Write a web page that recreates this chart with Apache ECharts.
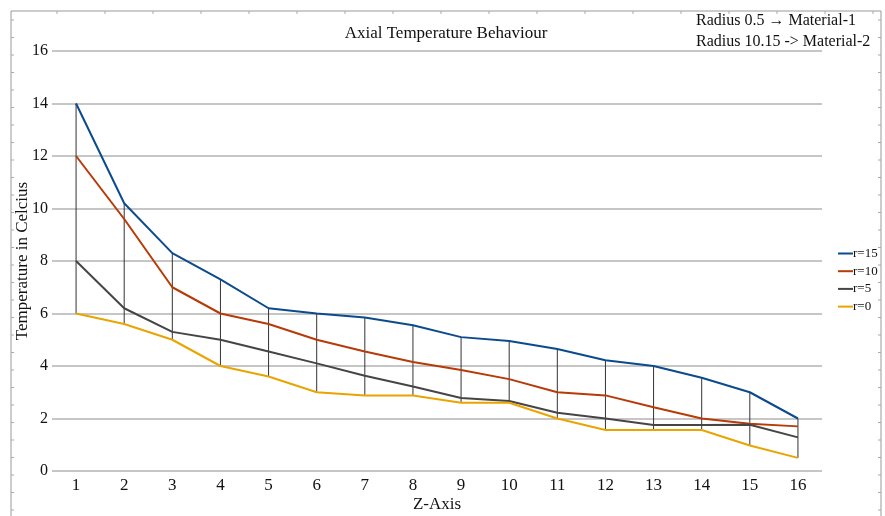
<!DOCTYPE html>
<html>
<head>
<meta charset="utf-8">
<script src="https://cdn.jsdelivr.net/npm/echarts@6/dist/echarts.min.js"></script>
<style>
  html, body { margin: 0; padding: 0; background: #fff; }
  #chart { width: 885px; height: 516px; }
</style>
</head>
<body>
<div id="chart"></div>
<script>
// Z positions along the axis
const zPos = ['1', '2', '3', '4', '5', '6', '7', '8', '9', '10', '11', '12', '13', '14', '15', '16'];

// temperature per radius
const r15 = [14, 10.2, 8.3, 7.3, 6.2, 6.0, 5.85, 5.55, 5.1, 4.95, 4.65, 4.22, 4.0, 3.55, 3.0, 2.0];
const r10 = [12, 9.6, 7.0, 6.0, 5.6, 5.0, 4.55, 4.15, 3.85, 3.5, 3.0, 2.88, 2.43, 2.0, 1.8, 1.7];
const r5 = [8, 6.2, 5.3, 5.0, 4.55, 4.1, 3.63, 3.22, 2.78, 2.67, 2.22, 2.0, 1.75, 1.75, 1.76, 1.28];
const r0 = [6, 5.6, 5.0, 4.0, 3.6, 3.0, 2.88, 2.88, 2.6, 2.6, 2.0, 1.56, 1.56, 1.56, 0.97, 0.5];

const yTicks = [0, 2, 4, 6, 8, 10, 12, 14, 16];

// vertical connector from lowest to highest radius at each z
const spans = zPos.map((z, i) => {
    const vals = [r15[i], r10[i], r5[i], r0[i]];
    return [i, Math.min(...vals), Math.max(...vals)];
});

const serif = 'Liberation Serif';

var chart = echarts.init(document.getElementById('chart'));

// frame ticks like the original screenshot
const frameTicks = [];
for (let x = 57; x < 880; x += 48) {
    frameTicks.push({ type: 'line', shape: { x1: x, y1: 11, x2: x, y2: 14 }, style: { stroke: '#aaa', lineWidth: 1 } });
}
for (let y = 20; y < 516; y += 17.5) {
    frameTicks.push({ type: 'line', shape: { x1: 11, y1: y, x2: 14, y2: y }, style: { stroke: '#aaa', lineWidth: 1 } });
    frameTicks.push({ type: 'line', shape: { x1: 878, y1: y, x2: 881, y2: y }, style: { stroke: '#aaa', lineWidth: 1 } });
}

var option = {
    backgroundColor: '#fff',
    animation: false,
    title: {
        text: 'Axial Temperature Behaviour',
        left: 441,
        top: 20,
        textAlign: 'center',
        textStyle: {
            fontFamily: serif,
            fontSize: 17,
            fontWeight: 'normal',
            color: '#111'
        }
    },
    graphic: [{
        type: 'rect',
        shape: { x: 11, y: 11, width: 870, height: 530 },
        style: { fill: 'none', stroke: '#999', lineWidth: 1 },
        silent: true
    }, {
        type: 'text',
        left: 696,
        top: 10,
        style: {
            text: 'Radius 0.5 \u2192 Material-1\nRadius 10.15 -> Material-2',
            font: '16px "Liberation Serif"',
            lineHeight: 21,
            fill: '#111'
        }
    }].concat(frameTicks),
    legend: {
        orient: 'vertical',
        left: 833,
        top: 242,
        icon: 'rect',
        itemWidth: 15,
        itemHeight: 2,
        itemGap: 4.7,
        data: ['r=15', 'r=10', 'r=5', 'r=0'],
        textStyle: {
            fontFamily: serif,
            fontSize: 13,
            color: '#111',
            padding: [0, 0, 0, -5]
        }
    },
    grid: {
        left: 52,
        right: 63,
        top: 51,
        bottom: 45,
        outerBoundsMode: 'none'
    },
    xAxis: {
        type: 'category',
        data: zPos,
        boundaryGap: true,
        name: 'Z-Axis',
        nameLocation: 'middle',
        nameGap: 25,
        nameMoveOverlap: false,
        nameTextStyle: { fontFamily: serif, fontSize: 17, color: '#111' },
        axisLine: { show: false },
        axisTick: { show: false },
        axisLabel: { fontFamily: serif, fontSize: 17, color: '#111', margin: 6 }
    },
    yAxis: {
        type: 'value',
        min: 0,
        max: 16,
        interval: 2,
        name: 'Temperature in Celcius',
        nameLocation: 'middle',
        nameGap: 21,
        nameMoveOverlap: false,
        nameTextStyle: { fontFamily: serif, fontSize: 17, color: '#111' },
        axisLine: { show: false },
        axisTick: { show: false },
        axisLabel: {
            fontFamily: serif, fontSize: 16, color: '#111', margin: 4,
            formatter: v => yTicks.includes(v) ? String(v) : ''
        },
        splitLine: { lineStyle: { color: '#b3b3b3', width: 1.5 } }
    },
    series: [{
        type: 'custom',
        name: 'span',
        data: spans,
        silent: true,
        renderItem: function (params, api) {
            const p1 = api.coord([api.value(0), api.value(1)]);
            const p2 = api.coord([api.value(0), api.value(2)]);
            return {
                type: 'line',
                shape: { x1: p1[0], y1: p1[1], x2: p2[0], y2: p2[1] },
                style: { stroke: '#333', lineWidth: 1 }
            };
        },
        z: 1
    }, {
        type: 'line',
        name: 'r=15',
        data: r15,
        symbol: 'none',
        lineStyle: { color: '#0b4a8c', width: 2 },
        itemStyle: { color: '#0b4a8c' },
        z: 3
    }, {
        type: 'line',
        name: 'r=10',
        data: r10,
        symbol: 'none',
        lineStyle: { color: '#b83a06', width: 2 },
        itemStyle: { color: '#b83a06' },
        z: 3
    }, {
        type: 'line',
        name: 'r=5',
        data: r5,
        symbol: 'none',
        lineStyle: { color: '#454545', width: 2 },
        itemStyle: { color: '#454545' },
        z: 3
    }, {
        type: 'line',
        name: 'r=0',
        data: r0,
        symbol: 'none',
        lineStyle: { color: '#eaa400', width: 2 },
        itemStyle: { color: '#eaa400' },
        z: 3
    }]
};

chart.setOption(option);
</script>
</body>
</html>
